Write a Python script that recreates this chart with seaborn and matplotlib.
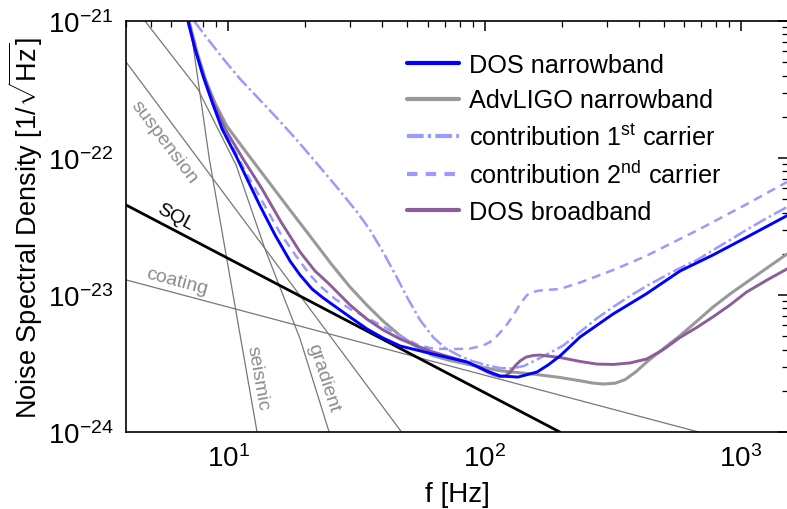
import numpy as np
import pandas as pd
import matplotlib
matplotlib.use("Agg")
import matplotlib.pyplot as plt
import matplotlib.ticker as mticker
import seaborn as sns
from matplotlib.lines import Line2D

# ---------------- data (log10 of frequency [Hz] and log10 of noise [1/sqrt(Hz)]) ----------------
dos_nb_logf = [0.8441, 0.8713, 0.9025, 0.9376, 0.9766, 1.0312, 1.0780, 1.1248, 1.1832, 1.2417, 1.2807,
               1.3275, 1.3665, 1.4094, 1.4756, 1.5419, 1.6043, 1.6706, 1.7992, 1.9318, 2.0097, 2.0604,
               2.1306, 2.2047, 2.2476, 2.2943, 2.3723, 2.5010, 2.6296, 2.7622, 2.8908, 3.0234, 3.1793]
dos_nb_logy = [-21.000, -21.204, -21.401, -21.591, -21.788, -21.985, -22.168, -22.350, -22.562, -22.752, -22.854,
               -22.956, -23.015, -23.073, -23.161, -23.248, -23.314, -23.372, -23.431, -23.489, -23.555, -23.591,
               -23.599, -23.562, -23.511, -23.445, -23.307, -23.139, -22.993, -22.825, -22.708, -22.577, -22.421]

ligo_nb_logf = [0.8480, 0.8791, 0.9142, 0.9493, 0.9949, 1.0702, 1.1559, 1.2417, 1.3314, 1.4055, 1.4756, 1.5407,
                1.6043, 1.6706, 1.7368, 1.7992, 1.8655, 1.9306, 2.0604, 2.1891, 2.2943, 2.3723, 2.4191, 2.4620,
                2.5088, 2.5478, 2.5906, 2.6324, 2.6959, 2.7622, 2.8285, 2.8908, 2.9571, 3.0234, 3.1014, 3.1793]
ligo_nb_logy = [-21.000, -21.226, -21.438, -21.599, -21.766, -21.956, -22.168, -22.380, -22.599, -22.781, -22.942,
                -23.073, -23.190, -23.297, -23.380, -23.443, -23.478, -23.504, -23.553, -23.577, -23.602, -23.626,
                -23.642, -23.650, -23.644, -23.618, -23.560, -23.489, -23.394, -23.297, -23.190, -23.088, -22.993,
                -22.905, -22.803, -22.701]

carrier1_logf = [0.8674, 0.9298, 0.9883, 1.0468, 1.1170, 1.1871, 1.2612, 1.3314, 1.4172, 1.5029, 1.5536, 1.6043,
                 1.6550, 1.7018, 1.7485, 1.7992, 1.8460, 1.8967, 1.9513, 2.0058, 2.0604, 2.1072, 2.1540, 2.2164,
                 2.3060, 2.3723, 2.4347, 2.5010, 2.5673, 2.6324, 2.6959, 2.7622, 2.8285, 2.8908, 2.9571, 3.0234,
                 3.1014, 3.1793]
carrier1_logy = [-21.000, -21.153, -21.292, -21.423, -21.562, -21.701, -21.854, -22.007, -22.197, -22.394, -22.526,
                 -22.686, -22.861, -23.029, -23.182, -23.307, -23.387, -23.438, -23.482, -23.511, -23.533, -23.536,
                 -23.518, -23.460, -23.370, -23.270, -23.175, -23.088, -23.007, -22.934, -22.869, -22.803, -22.745,
                 -22.672, -22.599, -22.522, -22.438, -22.358]

carrier2_logf = [0.8441, 0.8713, 0.9025, 0.9415, 0.9805, 1.0585, 1.1326, 1.2027, 1.2651, 1.3197, 1.3587, 1.4172,
                 1.4756, 1.5653, 1.6706, 1.7368, 1.7875, 1.8382, 1.8967, 1.9435, 1.9942, 2.0214, 2.0487, 2.0799,
                 2.1111, 2.1384, 2.1657, 2.1891, 2.2164, 2.2943, 2.3723, 2.4347, 2.5010, 2.5673, 2.6324, 2.6959,
                 2.7622, 2.8285, 2.8908, 2.9571, 3.0234, 3.1014, 3.1793]
carrier2_logy = [-21.000, -21.204, -21.401, -21.599, -21.788, -22.066, -22.314, -22.547, -22.715, -22.854, -22.934,
                 -23.029, -23.102, -23.190, -23.297, -23.361, -23.387, -23.394, -23.394, -23.391, -23.369, -23.343,
                 -23.299, -23.234, -23.153, -23.066, -23.000, -22.978, -22.967, -22.956, -22.909, -22.865, -22.818,
                 -22.766, -22.713, -22.653, -22.591, -22.529, -22.467, -22.401, -22.336, -22.255, -22.175]

dos_bb_logf = [0.8441, 0.8713, 0.9064, 0.9454, 0.9883, 1.0585, 1.1326, 1.2066, 1.2807, 1.3392, 1.3899, 1.4756,
               1.5407, 1.6043, 1.6706, 1.7368, 1.7992, 1.8655, 1.9306, 1.9747, 2.0097, 2.0370, 2.0604, 2.0799,
               2.0994, 2.1189, 2.1384, 2.1618, 2.1891, 2.2164, 2.2437, 2.2943, 2.3723, 2.4374, 2.5021, 2.5673,
               2.6324, 2.6959, 2.7622, 2.8285, 2.8920, 2.9571, 3.0222, 3.1014, 3.1793]
dos_bb_logy = [-21.000, -21.204, -21.409, -21.606, -21.788, -22.007, -22.226, -22.467, -22.686, -22.825, -22.912,
               -23.073, -23.175, -23.255, -23.321, -23.372, -23.416, -23.453, -23.489, -23.526, -23.562, -23.584,
               -23.595, -23.591, -23.566, -23.518, -23.482, -23.453, -23.442, -23.438, -23.445, -23.456, -23.485,
               -23.504, -23.507, -23.496, -23.467, -23.400, -23.310, -23.236, -23.158, -23.073, -22.978, -22.891,
               -22.810]

sql_logf = [0.6023, 2.2936]
sql_logy = [-22.343, -24.0]
coating_logf = [0.6023, 2.8343]
coating_logy = [-22.890, -24.0]
suspension_logf = [0.6023, 1.6764]
suspension_logy = [-21.299, -24.0]
seismic_logf = [0.850, 0.927, 1.113]
seismic_logy = [-21.0, -22.007, -24.0]
gradient_logf = [0.676, 0.882, 1.031, 1.144, 1.281, 1.394]
gradient_logy = [-21.0, -21.496, -22.05, -22.664, -23.321, -24.0]

x_ticks = [10, 100, 1000]
y_ticks = [1e-24, 1e-23, 1e-22, 1e-21]

legend_labels = ["DOS narrowband", "AdvLIGO narrowband",
                 r"contribution 1$^{\mathrm{st}}$ carrier",
                 r"contribution 2$^{\mathrm{nd}}$ carrier",
                 "DOS broadband"]

# ---------------- style ----------------
sns.set_theme(style="white")
plt.rcParams["font.family"] = ["Liberation Sans", "DejaVu Sans"]
plt.rcParams["mathtext.fontset"] = "custom"
plt.rcParams["mathtext.rm"] = "Liberation Sans"
plt.rcParams["mathtext.it"] = "Liberation Sans:italic"
plt.rcParams["mathtext.bf"] = "Liberation Sans:bold"
plt.rcParams["mathtext.sf"] = "Liberation Sans"
plt.rcParams["text.color"] = "black"
plt.rcParams["axes.labelcolor"] = "black"
plt.rcParams["xtick.color"] = "black"
plt.rcParams["ytick.color"] = "black"

C_BLUE = "#0000ff"
C_GRAY = "#999999"
C_LIGHT = "#9a9aff"
C_PURPLE = "#8b5e9b"
C_THIN = "#777777"
C_LABEL = "#8c8c8c"

fig = plt.figure(figsize=(7.87, 5.10), dpi=100)
ax = fig.add_axes([126 / 787, 1 - 433 / 510, 662 / 787, 411 / 510])
ax.set_xscale("log")
ax.set_yscale("log")


def draw(logf, logy, **kw):
    df = pd.DataFrame({"f": 10 ** np.asarray(logf, float), "psd": 10 ** np.asarray(logy, float)})
    sns.lineplot(data=df, x="f", y="psd", ax=ax, sort=False, estimator=None, legend=False, **kw)


# thin noise-budget lines
for lf, ly in [(coating_logf, coating_logy), (suspension_logf, suspension_logy),
               (seismic_logf, seismic_logy), (gradient_logf, gradient_logy)]:
    draw(lf, ly, color=C_THIN, lw=0.9)
draw(sql_logf, sql_logy, color="black", lw=2.0)

dash2 = (0, (3.6, 2.4))
dashdot = (0, (5.5, 1.4, 1.0, 1.4))
draw(ligo_nb_logf, ligo_nb_logy, color=C_GRAY, lw=2.2)
draw(carrier1_logf, carrier1_logy, color=C_LIGHT, lw=1.8, linestyle=dashdot)
draw(carrier2_logf, carrier2_logy, color=C_LIGHT, lw=1.8, linestyle=dash2)
draw(dos_bb_logf, dos_bb_logy, color=C_PURPLE, lw=2.1)
draw(dos_nb_logf, dos_nb_logy, color=C_BLUE, lw=2.1)

ax.set_xlim(4.0, 1525)
ax.set_ylim(1e-24, 1e-21)
ax.set_xticks(x_ticks)
ax.set_yticks(y_ticks)

# annotations
ax.text(5.63, 1.31e-22, "suspension", rotation=-53, color=C_LABEL, fontsize=14, ha="center", va="center")
ax.text(6.21, 3.71e-23, "SQL", rotation=-28, color="black", fontsize=14, ha="center", va="center")
ax.text(6.33, 1.26e-23, "coating", rotation=-15, color=C_LABEL, fontsize=14, ha="center", va="center")
ax.text(12.97, 2.52e-24, "seismic", rotation=-80, color=C_LABEL, fontsize=14, ha="center", va="center")
ax.text(23.5, 2.52e-24, "gradient", rotation=-72, color=C_LABEL, fontsize=14, ha="center", va="center")

# legend
handles = [
    Line2D([], [], color=C_BLUE, lw=3.0),
    Line2D([], [], color=C_GRAY, lw=3.0),
    Line2D([], [], color=C_LIGHT, lw=3.0, linestyle=(0, (4.0, 1.0, 0.8, 1.0))),
    Line2D([], [], color=C_LIGHT, lw=3.0, linestyle=(0, (2.5, 2.0))),
    Line2D([], [], color=C_PURPLE, lw=3.0),
]
leg = ax.legend(handles, legend_labels, loc="upper left", bbox_to_anchor=(0.4240, 0.922),
                frameon=False, fontsize=18.2, handlelength=2.05, handletextpad=0.42,
                labelspacing=0.45, borderpad=0, borderaxespad=0, labelcolor="black")

# axes styling
for s in ax.spines.values():
    s.set_color("black")
    s.set_linewidth(1.2)
ax.xaxis.set_minor_formatter(mticker.NullFormatter())
ax.yaxis.set_minor_formatter(mticker.NullFormatter())
ax.tick_params(which="both", direction="in", top=True, right=True, color="black", labelcolor="black")
ax.tick_params(which="major", length=7, width=1.1, labelsize=20, pad=9)
ax.tick_params(which="minor", length=4, width=0.9)

ax.set_xlabel("f [Hz]", fontsize=20, labelpad=6, color="black")
ax.set_ylabel(r"Noise Spectral Density [1/$\sqrt{\mathrm{Hz}}$]", fontsize=19.5, labelpad=2, color="black")

fig.savefig("out.png", dpi=100)
